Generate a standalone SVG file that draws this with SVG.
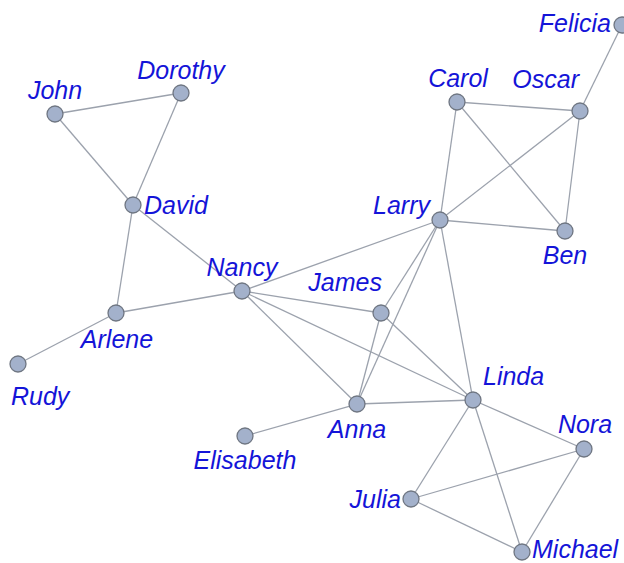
<svg xmlns="http://www.w3.org/2000/svg" width="624" height="563" viewBox="0 0 624 563">
<style>
.e{stroke:#9ca2ad;stroke-width:1.3;fill:none}
.n{fill:#a3b1cb;stroke:#6f7682;stroke-width:1.3}
.t{font-family:"Liberation Sans",Arial,sans-serif;font-style:italic;font-size:25px;fill:#1414d8}
.m{text-anchor:middle}
.r{text-anchor:end}
</style>
<rect width="624" height="563" fill="#fff"/>
<g id="connectors">
<line class="e" x1="55" y1="114" x2="181" y2="93"/>
<line class="e" x1="55" y1="114" x2="133" y2="205"/>
<line class="e" x1="181" y1="93" x2="133" y2="205"/>
<line class="e" x1="133" y1="205" x2="116" y2="313"/>
<line class="e" x1="133" y1="205" x2="242" y2="291"/>
<line class="e" x1="116" y1="313" x2="18" y2="364"/>
<line class="e" x1="116" y1="313" x2="242" y2="291"/>
<line class="e" x1="242" y1="291" x2="440" y2="220"/>
<line class="e" x1="242" y1="291" x2="381" y2="313"/>
<line class="e" x1="242" y1="291" x2="357" y2="404"/>
<line class="e" x1="242" y1="291" x2="473" y2="400"/>
<line class="e" x1="381" y1="313" x2="357" y2="404"/>
<line class="e" x1="381" y1="313" x2="473" y2="400"/>
<line class="e" x1="440" y1="220" x2="381" y2="313"/>
<line class="e" x1="440" y1="220" x2="357" y2="404"/>
<line class="e" x1="440" y1="220" x2="473" y2="400"/>
<line class="e" x1="440" y1="220" x2="457" y2="102"/>
<line class="e" x1="440" y1="220" x2="580" y2="111"/>
<line class="e" x1="440" y1="220" x2="565" y2="231"/>
<line class="e" x1="457" y1="102" x2="580" y2="111"/>
<line class="e" x1="457" y1="102" x2="565" y2="231"/>
<line class="e" x1="580" y1="111" x2="565" y2="231"/>
<line class="e" x1="580" y1="111" x2="622" y2="25"/>
<line class="e" x1="357" y1="404" x2="473" y2="400"/>
<line class="e" x1="357" y1="404" x2="245" y2="436"/>
<line class="e" x1="473" y1="400" x2="584" y2="449"/>
<line class="e" x1="473" y1="400" x2="411" y2="499"/>
<line class="e" x1="473" y1="400" x2="522" y2="552"/>
<line class="e" x1="411" y1="499" x2="584" y2="449"/>
<line class="e" x1="411" y1="499" x2="522" y2="552"/>
<line class="e" x1="584" y1="449" x2="522" y2="552"/>
</g>
<g id="John"><circle class="n" cx="55" cy="114" r="8"/><text class="t m" x="55" y="99">John</text></g>
<g id="Dorothy"><circle class="n" cx="181" cy="93" r="8"/><text class="t m" x="181" y="79">Dorothy</text></g>
<g id="David"><circle class="n" cx="133" cy="205" r="8"/><text class="t" x="144" y="214">David</text></g>
<g id="Arlene"><circle class="n" cx="116" cy="313" r="8"/><text class="t m" x="117" y="348">Arlene</text></g>
<g id="Rudy"><circle class="n" cx="18" cy="364" r="8"/><text class="t" x="11" y="405">Rudy</text></g>
<g id="Nancy"><circle class="n" cx="242" cy="291" r="8"/><text class="t m" x="242" y="276">Nancy</text></g>
<g id="Elisabeth"><circle class="n" cx="245" cy="436" r="8"/><text class="t m" x="245" y="469">Elisabeth</text></g>
<g id="James"><circle class="n" cx="381" cy="313" r="8"/><text class="t r" x="382" y="291">James</text></g>
<g id="Anna"><circle class="n" cx="357" cy="404" r="8"/><text class="t m" x="357" y="438">Anna</text></g>
<g id="Larry"><circle class="n" cx="440" cy="220" r="8"/><text class="t r" x="430" y="214">Larry</text></g>
<g id="Carol"><circle class="n" cx="457" cy="102" r="8"/><text class="t m" x="458" y="87">Carol</text></g>
<g id="Oscar"><circle class="n" cx="580" cy="111" r="8"/><text class="t r" x="579" y="88">Oscar</text></g>
<g id="Felicia"><circle class="n" cx="622" cy="25" r="8"/><text class="t r" x="611" y="32">Felicia</text></g>
<g id="Ben"><circle class="n" cx="565" cy="231" r="8"/><text class="t m" x="565" y="264">Ben</text></g>
<g id="Linda"><circle class="n" cx="473" cy="400" r="8"/><text class="t" x="483" y="385">Linda</text></g>
<g id="Nora"><circle class="n" cx="584" cy="449" r="8"/><text class="t m" x="585" y="433">Nora</text></g>
<g id="Julia"><circle class="n" cx="411" cy="499" r="8"/><text class="t r" x="401" y="508">Julia</text></g>
<g id="Michael"><circle class="n" cx="522" cy="552" r="8"/><text class="t" x="532" y="558">Michael</text></g>
</svg>
